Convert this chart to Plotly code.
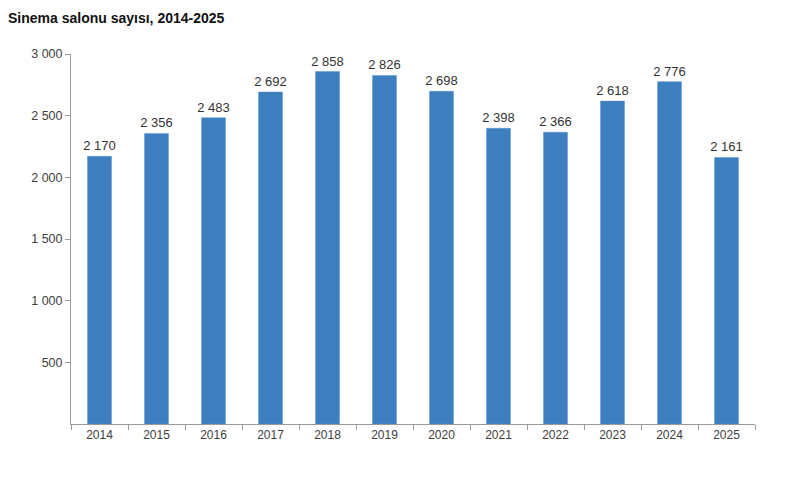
import plotly.graph_objects as go

years = ["2014", "2015", "2016", "2017", "2018", "2019", "2020", "2021", "2022", "2023", "2024", "2025"]
salon = [2170, 2356, 2483, 2692, 2858, 2826, 2698, 2398, 2366, 2618, 2776, 2161]
y_ticks = [500, 1000, 1500, 2000, 2500, 3000]

fig = go.Figure(go.Bar(
    x=years, y=salon,
    marker=dict(color="#3d7ebf", line=dict(color="#5a95d0", width=0.5)),
    width=0.42,
    texttemplate="%{y:,d}",
    textposition="outside",
    constraintext="none",
    textfont=dict(family="Liberation Sans, Arial", size=13, color="#333333"),
    cliponaxis=False,
))

fig.update_layout(
    width=800, height=483,
    separators=", ",
    paper_bgcolor="white", plot_bgcolor="white",
    margin=dict(l=71, r=45, t=54, b=59),
    showlegend=False,
    title=dict(text="<b>Sinema salonu sayısı, 2014-2025</b>", x=0.01, xanchor="left",
               y=0.963, yanchor="middle",
               font=dict(family="Liberation Sans, Arial", size=14, color="#111111")),
    font=dict(family="Liberation Sans, Arial", size=12, color="#404040"),
    uniformtext=dict(mode=False),
)
fig.update_xaxes(
    showline=True, linecolor="#9a9a9a", linewidth=1,
    ticks="outside", tickson="boundaries", ticklen=5, tickcolor="#9a9a9a",
    tickfont=dict(size=12, color="#404040"),
    showgrid=False,
)
fig.update_yaxes(
    range=[0, 3000], tickvals=y_ticks, tickformat=",d",
    showline=True, linecolor="#9a9a9a", linewidth=1,
    ticks="outside", ticklen=5, tickcolor="#9a9a9a",
    tickfont=dict(size=12.5, color="#404040"),
    showgrid=False, zeroline=False,
)

fig.write_html("out.html")
